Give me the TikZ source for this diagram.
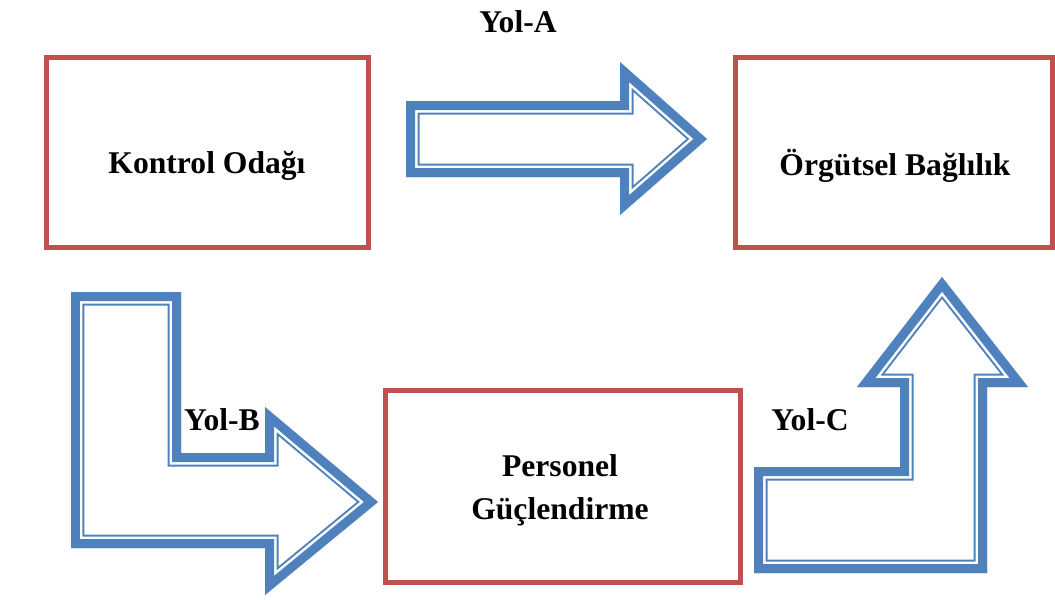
\documentclass[tikz,border=0pt]{standalone}
\usepackage{fontspec}
\setmainfont{Liberation Serif}
\usetikzlibrary{positioning}
\definecolor{boxred}{HTML}{C0504D}
\definecolor{pathblue}{HTML}{4F81BD}

% hollow block arrow: thick outer rule, white gap, thin inner rule
\newcommand{\hollowarrow}[1]{%
  \begin{scope}
    \clip #1;
    \draw[pathblue,line width=0.54cm,line join=miter] #1;
    \draw[white,line width=0.46cm,line join=miter] #1;
    \draw[pathblue,line width=0.36cm,line join=miter] #1;
  \end{scope}}

\begin{document}
\begin{tikzpicture}[
  x=0.02cm, y=-0.02cm,
  box/.style={rectangle,draw=boxred,line width=0.1cm},
  lbl/.style={font=\fontsize{18}{24.5}\selectfont\bfseries,align=center,inner sep=0pt}
]
\useasboundingbox (0,0) rectangle (1055,599);

% --- boxes
\node[box,minimum width=6.44cm,minimum height=3.8cm]  (kontrol)  at (207.5,152.5) {};
\node[box,minimum width=6.34cm,minimum height=3.8cm]  (orgutsel) at (894,152.5) {};
\node[box,minimum width=7.1cm,minimum height=3.84cm]  (personel) at (563,486.5) {};

\node[lbl] (kontrolT)  at (207,166) {Kontrol Odağı};
\node[lbl] (orgutselT) at (895,166) {Örgütsel Bağlılık};
\node[lbl] (personelT) at (560,490) {Personel\\Güçlendirme};

% --- paths
\hollowarrow{(406,101) -- (620,101) -- (620,62) -- (707,139) -- (620,215) -- (620,177) -- (406,177) -- cycle}
\hollowarrow{(71,292) -- (181,292) -- (181,453) -- (265,453) -- (265,407) -- (378,502) -- (265,595) -- (265,548) -- (71,548) -- cycle}
\hollowarrow{(754,573) -- (754,467) -- (900,467) -- (900,387) -- (857,387) -- (942,277) -- (1028,387) -- (987,387) -- (987,573) -- cycle}

\node[lbl] (yolA) at (518,22)  {Yol-A};
\node[lbl] (yolB) at (222,420) {Yol-B};
\node[lbl] (yolC) at (810,420) {Yol-C};
\end{tikzpicture}
\end{document}
